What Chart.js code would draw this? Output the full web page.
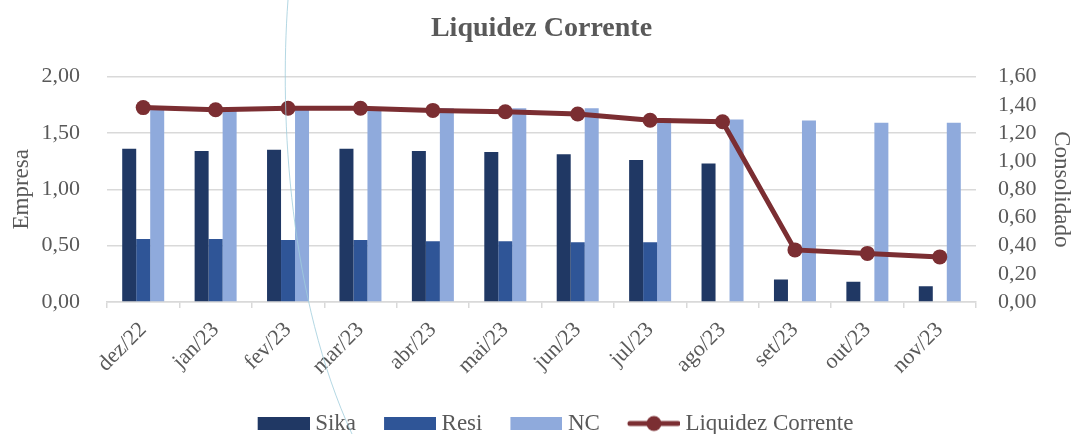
<!DOCTYPE html>
<html><head><meta charset="utf-8">
<script src="https://cdn.jsdelivr.net/npm/chart.js@4/dist/chart.umd.min.js"></script>
<style>html,body{margin:0;padding:0;background:#fff;}#wrap{width:1073px;height:434px;}</style>
</head><body><div id="wrap"><canvas id="c" width="1073" height="434"></canvas></div>
<script>
const categories = ['dez/22','jan/23','fev/23','mar/23','abr/23','mai/23','jun/23','jul/23','ago/23','set/23','out/23','nov/23'];
const sika = [1.36,1.34,1.35,1.36,1.34,1.33,1.31,1.26,1.23,0.20,0.18,0.14];
const resi = [0.56,0.56,0.55,0.55,0.54,0.54,0.53,0.53,null,null,null,null];
const nc = [1.73,1.72,1.73,1.73,1.72,1.72,1.72,1.63,1.62,1.61,1.59,1.59];
const liquidez = [1.38,1.365,1.375,1.375,1.36,1.35,1.335,1.29,1.28,0.37,0.345,0.32];
const leftTicks = [0,0.5,1,1.5,2];
const rightTicks = [0,0.2,0.4,0.6,0.8,1,1.2,1.4,1.6];

const FONT = "'Liberation Serif', 'DejaVu Serif', serif";
const GREY = '#595959';
const C_SIKA = '#203864', C_RESI = '#2F5597', C_NC = '#8FAADC', C_LINE = '#7B2E32';

// legend swatches (image with transparent left margin to create item spacing)
function boxImg(color){
  const c=document.createElement('canvas');c.width=86;c.height=13;
  const x=c.getContext('2d');x.fillStyle=color;x.fillRect(34,0,52,13);return c;
}
function lineImg(color){
  const c=document.createElement('canvas');c.width=86;c.height=18;
  const x=c.getContext('2d');x.strokeStyle=color;x.lineWidth=5;x.lineCap='round';
  x.beginPath();x.moveTo(36,9);x.lineTo(84,9);x.stroke();
  x.fillStyle=color;x.beginPath();x.arc(60,9,7.5,0,Math.PI*2);x.fill();return c;
}
const fmt = v => Number(v).toFixed(2).replace('.',',');

const decoCurve = {
  id:'decoCurve',
  afterDraw(chart){
    const ctx=chart.ctx;ctx.save();
    ctx.strokeStyle='rgba(160,205,220,0.8)';ctx.lineWidth=1;
    ctx.beginPath();ctx.moveTo(288,0);ctx.bezierCurveTo(279,120,290,300,352,434);ctx.stroke();
    ctx.restore();
  }
};

new Chart(document.getElementById('c'),{
  data:{
    labels:categories,
    datasets:[
      {type:'line',label:'Liquidez Corrente',data:liquidez,yAxisID:'y1',borderColor:C_LINE,backgroundColor:C_LINE,
       borderWidth:5,pointRadius:7.5,pointHoverRadius:7.5,pointBackgroundColor:C_LINE,pointBorderColor:C_LINE,pointBorderWidth:0,tension:0,order:0},
      {type:'bar',label:'Sika',data:sika,yAxisID:'y',backgroundColor:C_SIKA,order:1},
      {type:'bar',label:'Resi',data:resi,yAxisID:'y',backgroundColor:C_RESI,order:1},
      {type:'bar',label:'NC',data:nc,yAxisID:'y',backgroundColor:C_NC,order:1}
    ]
  },
  options:{
    responsive:false,animation:false,
    layout:{padding:{left:10,right:0,top:0,bottom:-11}},
    datasets:{bar:{categoryPercentage:0.58,barPercentage:1}},
    plugins:{
      title:{display:true,text:'Liquidez Corrente',color:GREY,font:{family:FONT,size:28,weight:'bold',lineHeight:1.2},padding:{top:12,bottom:31}},
      tooltip:{enabled:false},
      legend:{position:'bottom',
        labels:{usePointStyle:true,pointStyleWidth:74,boxHeight:18,color:GREY,font:{family:FONT,size:23},padding:0,
          generateLabels(chart){
            const order=[1,2,3,0];
            return order.map(i=>{
              const ds=chart.data.datasets[i];
              return {text:ds.label,datasetIndex:i,fillStyle:ds.backgroundColor,strokeStyle:ds.backgroundColor,lineWidth:0,
                pointStyle: i===0?lineImg(C_LINE):boxImg(ds.backgroundColor),fontColor:GREY,hidden:false};
            });
          }}}
    },
    scales:{
      x:{offset:true,grid:{offset:true,drawOnChartArea:false,drawTicks:true,tickLength:6,color:'#d9d9d9',lineWidth:1.5},
         border:{color:'#d9d9d9',width:1.5},
         afterFit(s){s.height=110;s.paddingLeft=0;s.paddingRight=0;},
         ticks:{color:GREY,font:{family:FONT,size:22},maxRotation:45,minRotation:45,padding:9,autoSkip:false}},
      y:{position:'left',min:0,max:2,afterBuildTicks(s){s.ticks=leftTicks.map(v=>({value:v}));},
         afterFit(s){s.width=97;},
         grid:{color:'#d9d9d9',lineWidth:1.5,drawTicks:false},border:{display:false},
         ticks:{color:GREY,font:{family:FONT,size:22},padding:27,callback:fmt,autoSkip:false},
         title:{display:true,text:'Empresa',color:GREY,font:{family:FONT,size:23,lineHeight:1},padding:{top:0,bottom:0}}},
      y1:{position:'right',min:0,max:1.6,afterBuildTicks(s){s.ticks=rightTicks.map(v=>({value:v}));},
         afterFit(s){s.width=97;},
         grid:{drawOnChartArea:false,drawTicks:false},border:{display:false},
         ticks:{color:GREY,font:{family:FONT,size:22},padding:22,callback:fmt,autoSkip:false},
         title:{display:true,text:'Consolidado',color:GREY,font:{family:FONT,size:23,lineHeight:1},padding:{top:0,bottom:0}}}
    }
  },
  plugins:[decoCurve]
});
</script></body></html>
